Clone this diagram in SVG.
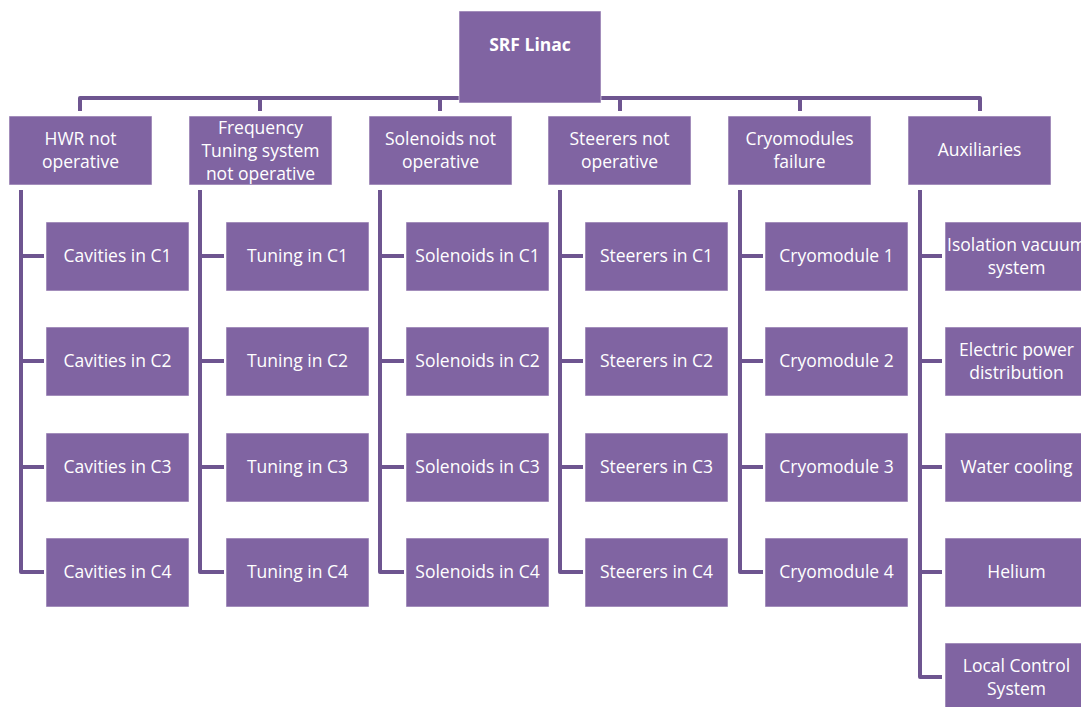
<svg xmlns="http://www.w3.org/2000/svg" width="1081" height="707" viewBox="0 0 1081 707">
<defs>
<style>
.box{fill:#8064A2;stroke:#ffffff;stroke-opacity:0.55;stroke-width:1}
.t{font-family:"Open Sans","Liberation Sans",sans-serif;font-size:17.5px;fill:#ffffff;text-anchor:middle}
.b{font-weight:bold}
.c{fill:none;stroke:#6E5590;stroke-width:4;stroke-linejoin:round}
</style>
</defs>
<rect width="1081" height="707" fill="#ffffff"/>
<g id="connectors">
<path class="c" d="M530 103V98M80 111V98H980V111M260 98V111M440 98V111M620 98V111M800 98V111"/>
<path class="c" d="M21 190V572H44M21 256H44M21 361H44M21 467H44"/>
<path class="c" d="M200 190V572H224M200 256H224M200 361H224M200 467H224"/>
<path class="c" d="M380 190V572H404M380 256H404M380 361H404M380 467H404"/>
<path class="c" d="M560 190V572H583M560 256H583M560 361H583M560 467H583"/>
<path class="c" d="M740 190V572H763M740 256H763M740 361H763M740 467H763"/>
<path class="c" d="M920 190V677H942M920 256H942M920 361H942M920 467H942M920 572H942"/>
</g>
<g id="root"><rect class="box" x="459" y="11" width="142" height="92"/><text class="t b" x="530" y="51">SRF Linac</text></g>
<g id="hwr"><rect class="box" x="9" y="116" width="143" height="69"/><text class="t" x="80.5" y="145">HWR not</text><text class="t" x="80.5" y="168">operative</text></g>
<g id="freq"><rect class="box" x="189" y="116" width="143" height="69"/><text class="t" x="260.5" y="134">Frequency</text><text class="t" x="260.5" y="157">Tuning system</text><text class="t" x="260.5" y="180">not operative</text></g>
<g id="sol"><rect class="box" x="369" y="116" width="143" height="69"/><text class="t" x="440.5" y="145">Solenoids not</text><text class="t" x="440.5" y="168">operative</text></g>
<g id="steer"><rect class="box" x="548" y="116" width="143" height="69"/><text class="t" x="619.5" y="145">Steerers not</text><text class="t" x="619.5" y="168">operative</text></g>
<g id="cryo"><rect class="box" x="728" y="116" width="143" height="69"/><text class="t" x="799.5" y="145">Cryomodules</text><text class="t" x="799.5" y="168">failure</text></g>
<g id="aux"><rect class="box" x="908" y="116" width="143" height="69"/><text class="t" x="979.5" y="156">Auxiliaries</text></g>

<g id="cav1"><rect class="box" x="46" y="222" width="143" height="69"/><text class="t" x="117.5" y="262">Cavities in C1</text></g>
<g id="cav2"><rect class="box" x="46" y="327" width="143" height="69"/><text class="t" x="117.5" y="367">Cavities in C2</text></g>
<g id="cav3"><rect class="box" x="46" y="433" width="143" height="69"/><text class="t" x="117.5" y="473">Cavities in C3</text></g>
<g id="cav4"><rect class="box" x="46" y="538" width="143" height="69"/><text class="t" x="117.5" y="578">Cavities in C4</text></g>

<g id="tun1"><rect class="box" x="226" y="222" width="143" height="69"/><text class="t" x="297.5" y="262">Tuning in C1</text></g>
<g id="tun2"><rect class="box" x="226" y="327" width="143" height="69"/><text class="t" x="297.5" y="367">Tuning in C2</text></g>
<g id="tun3"><rect class="box" x="226" y="433" width="143" height="69"/><text class="t" x="297.5" y="473">Tuning in C3</text></g>
<g id="tun4"><rect class="box" x="226" y="538" width="143" height="69"/><text class="t" x="297.5" y="578">Tuning in C4</text></g>

<g id="sol1"><rect class="box" x="406" y="222" width="143" height="69"/><text class="t" x="477.5" y="262">Solenoids in C1</text></g>
<g id="sol2"><rect class="box" x="406" y="327" width="143" height="69"/><text class="t" x="477.5" y="367">Solenoids in C2</text></g>
<g id="sol3"><rect class="box" x="406" y="433" width="143" height="69"/><text class="t" x="477.5" y="473">Solenoids in C3</text></g>
<g id="sol4"><rect class="box" x="406" y="538" width="143" height="69"/><text class="t" x="477.5" y="578">Solenoids in C4</text></g>

<g id="st1"><rect class="box" x="585" y="222" width="143" height="69"/><text class="t" x="656.5" y="262">Steerers in C1</text></g>
<g id="st2"><rect class="box" x="585" y="327" width="143" height="69"/><text class="t" x="656.5" y="367">Steerers in C2</text></g>
<g id="st3"><rect class="box" x="585" y="433" width="143" height="69"/><text class="t" x="656.5" y="473">Steerers in C3</text></g>
<g id="st4"><rect class="box" x="585" y="538" width="143" height="69"/><text class="t" x="656.5" y="578">Steerers in C4</text></g>

<g id="cm1"><rect class="box" x="765" y="222" width="143" height="69"/><text class="t" x="836.5" y="262">Cryomodule 1</text></g>
<g id="cm2"><rect class="box" x="765" y="327" width="143" height="69"/><text class="t" x="836.5" y="367">Cryomodule 2</text></g>
<g id="cm3"><rect class="box" x="765" y="433" width="143" height="69"/><text class="t" x="836.5" y="473">Cryomodule 3</text></g>
<g id="cm4"><rect class="box" x="765" y="538" width="143" height="69"/><text class="t" x="836.5" y="578">Cryomodule 4</text></g>

<g id="ax1"><rect class="box" x="945" y="222" width="143" height="69"/><text class="t" x="1016.5" y="251">Isolation vacuum</text><text class="t" x="1016.5" y="274">system</text></g>
<g id="ax2"><rect class="box" x="945" y="327" width="143" height="69"/><text class="t" x="1016.5" y="356">Electric power</text><text class="t" x="1016.5" y="379">distribution</text></g>
<g id="ax3"><rect class="box" x="945" y="433" width="143" height="69"/><text class="t" x="1016.5" y="473">Water cooling</text></g>
<g id="ax4"><rect class="box" x="945" y="538" width="143" height="69"/><text class="t" x="1016.5" y="578">Helium</text></g>
<g id="ax5"><rect class="box" x="945" y="643" width="143" height="69"/><text class="t" x="1016.5" y="672">Local Control</text><text class="t" x="1016.5" y="695">System</text></g>
</svg>
